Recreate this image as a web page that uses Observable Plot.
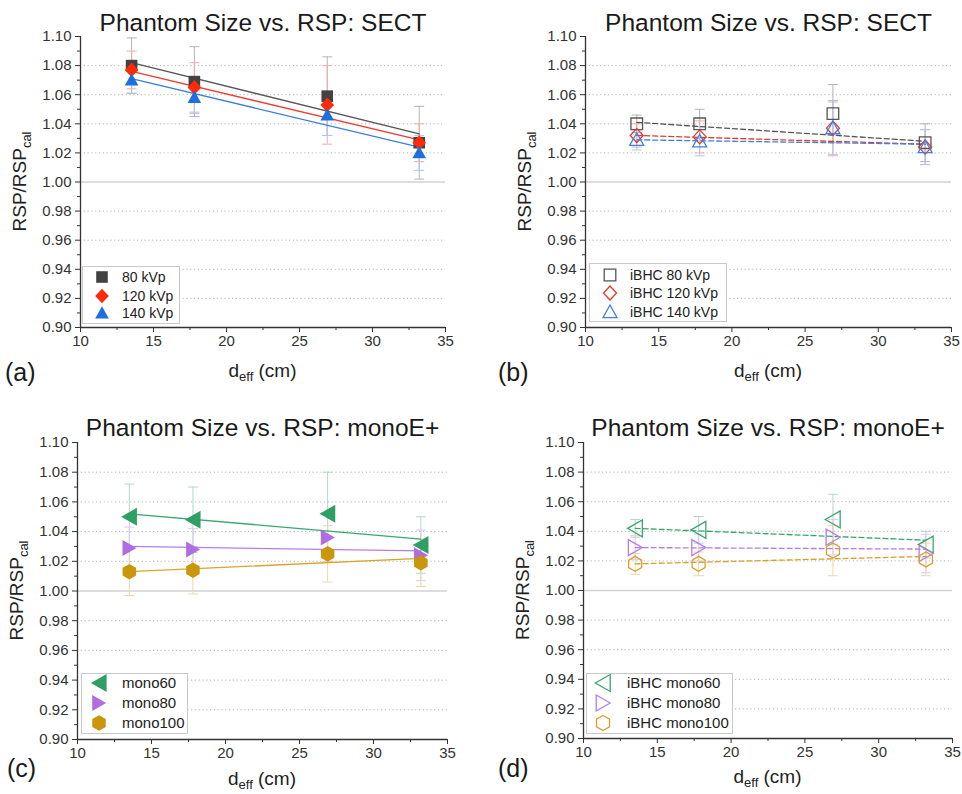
<!DOCTYPE html>
<html><head><meta charset="utf-8">
<script src="https://cdn.jsdelivr.net/npm/d3@7"></script>
<script src="https://cdn.jsdelivr.net/npm/@observablehq/plot@0.6"></script>
<style>
body{margin:0;background:#fff;}
#root{position:relative;width:962px;height:794px;overflow:hidden;font-family:"Liberation Sans",Arial,sans-serif;}
.panel{position:absolute;}
.legend{position:absolute;background:#fff;border:1px solid #c9c9c9;box-sizing:border-box;}
.lt{position:absolute;white-space:nowrap;color:#222;}
</style></head><body><div id="root"></div>
<script>
// ---------- data ----------
const deff = [13.5, 17.8, 26.9, 33.2];          // effective diameter (cm)
const fitX = [13.5, 33.2];

// (a) SECT
const sect80  = [1.080, 1.069, 1.059, 1.027];
const sect80Err  = [0.019, 0.024, 0.027, 0.025];
const sect80Fit  = [1.082, 1.033];
const sect120 = [1.077, 1.065, 1.053, 1.027];
const sect120Err = [0.013, 0.017, 0.027, 0.013];
const sect120Fit = [1.076, 1.029];
const sect140 = [1.070, 1.058, 1.046, 1.020];
const sect140Err = [0.009, 0.011, 0.014, 0.012];
const sect140Fit = [1.071, 1.024];

// (b) SECT iBHC
const ibhc80  = [1.040, 1.040, 1.047, 1.027];
const ibhc80Err  = [0.006, 0.010, 0.020, 0.013];
const ibhc80Fit  = [1.041, 1.028];
const ibhc120 = [1.032, 1.031, 1.037, 1.024];
const ibhc120Err = [0.008, 0.011, 0.019, 0.012];
const ibhc120Fit = [1.032, 1.026];
const ibhc140 = [1.029, 1.028, 1.037, 1.024];
const ibhc140Err = [0.007, 0.010, 0.018, 0.012];
const ibhc140Fit = [1.029, 1.026];

// (c) monoE+
const mono60  = [1.050, 1.048, 1.052, 1.031];
const mono60Err  = [0.022, 0.022, 0.028, 0.019];
const mono60Fit  = [1.052, 1.035];
const mono80  = [1.029, 1.028, 1.036, 1.024];
const mono80Err  = [0.014, 0.014, 0.016, 0.017];
const mono80Fit  = [1.030, 1.027];
const mono100 = [1.013, 1.014, 1.025, 1.019];
const mono100Err = [0.016, 0.016, 0.019, 0.016];
const mono100Fit = [1.013, 1.022];

// (d) monoE+ iBHC
const ibhcMono60  = [1.042, 1.041, 1.048, 1.031];
const ibhcMono60Err  = [0.006, 0.009, 0.017, 0.009];
const ibhcMono60Fit  = [1.042, 1.034];
const ibhcMono80  = [1.029, 1.029, 1.036, 1.025];
const ibhcMono80Err  = [0.008, 0.009, 0.012, 0.013];
const ibhcMono80Fit  = [1.029, 1.028];
const ibhcMono100 = [1.018, 1.018, 1.027, 1.021];
const ibhcMono100Err = [0.007, 0.008, 0.017, 0.011];
const ibhcMono100Fit = [1.018, 1.023];

// ticks
const yMajor = [0.90, 0.92, 0.94, 0.96, 0.98, 1.00, 1.02, 1.04, 1.06, 1.08, 1.10];
const yMinor = [0.91, 0.93, 0.95, 0.97, 0.99, 1.01, 1.03, 1.05, 1.07, 1.09];
const yGrid  = [0.92, 0.94, 0.96, 0.98, 1.02, 1.04, 1.06, 1.08];
const xMajor = [10, 15, 20, 25, 30, 35];
const xMinor = [12.5, 17.5, 22.5, 27.5, 32.5];

// ---------- symbols ----------
const rad = s => Math.sqrt(s / Math.PI);
const sym = {
  square:  {draw(c,s){const w=rad(s); c.rect(-w,-w,2*w,2*w);}},
  diamond: {draw(c,s){const w=rad(s); c.moveTo(0,-1.08*w); c.lineTo(w,0); c.lineTo(0,1.08*w); c.lineTo(-w,0); c.closePath();}},
  triUp:   {draw(c,s){const w=rad(s); c.moveTo(0,-w); c.lineTo(w,0.8*w); c.lineTo(-w,0.8*w); c.closePath();}},
  triLeft: {draw(c,s){const w=rad(s); c.moveTo(-0.9*w,0); c.lineTo(0.85*w,-w); c.lineTo(0.85*w,w); c.closePath();}},
  triRight:{draw(c,s){const w=rad(s); c.moveTo(0.9*w,0); c.lineTo(-0.85*w,-w); c.lineTo(-0.85*w,w); c.closePath();}},
  hex:     {draw(c,s){const w=rad(s); for(let k=0;k<6;k++){const a=-Math.PI/2+k*Math.PI/3; const px=w*Math.cos(a), py=w*Math.sin(a); if(k===0)c.moveTo(px,py); else c.lineTo(px,py);} c.closePath();}},
  cap:     {draw(c,s){const w=rad(s); c.moveTo(-w,0); c.lineTo(w,0);}}
};

// ---------- panels ----------
const panels = [
  {letter:"(a)", title:"Phantom Size vs. RSP: SECT", left:0, top:0, width:481, ml:80, mr:36, mt:36, mb:70, titleDy:-6,
   letterX:5, letterY:381, xlOff:50, open:false,
   legend:{x:82, y:266, w:98, h:58, symX:102, txtX:122, rows:[277,296,313], fs:14},
   series:[
    {name:"80 kVp", y:sect80, e:sect80Err, fit:sect80Fit, color:"#424242", line:"#555555", err:"#b4b4b4", symbol:sym.square, r:5.8},
    {name:"120 kVp", y:sect120, e:sect120Err, fit:sect120Fit, color:"#ff2a0a", line:"#ee3b33", err:"#f3aaaa", symbol:sym.diamond, r:6.8},
    {name:"140 kVp", y:sect140, e:sect140Err, fit:sect140Fit, color:"#1d6fe0", line:"#3a7edc", err:"#aac6f0", symbol:sym.triUp, r:6.8}
   ]},
  {letter:"(b)", title:"Phantom Size vs. RSP: SECT", left:495, top:0, width:467, ml:90, mr:11, mt:36, mb:70, titleDy:-6,
   letterX:3, letterY:381, xlOff:50, open:true,
   legend:{x:589, y:263, w:138, h:59, symX:610, txtX:630, rows:[275,293,312], fs:14},
   series:[
    {name:"iBHC 80 kVp", y:ibhc80, e:ibhc80Err, fit:ibhc80Fit, color:"#555555", line:"#555555", err:"#b4b4b4", symbol:sym.square, r:5.8},
    {name:"iBHC 120 kVp", y:ibhc120, e:ibhc120Err, fit:ibhc120Fit, color:"#e8382c", line:"#e8382c", err:"#f3aaaa", symbol:sym.diamond, r:6.5},
    {name:"iBHC 140 kVp", y:ibhc140, e:ibhc140Err, fit:ibhc140Fit, color:"#3f80e4", line:"#3f80e4", err:"#aac6f0", symbol:sym.triUp, r:7}
   ]},
  {letter:"(c)", title:"Phantom Size vs. RSP: monoE+", left:0, top:397, width:481, ml:77, mr:34, mt:45, mb:55, titleDy:-7,
   letterX:7, letterY:380, xlOff:46, open:false,
   legend:{x:81, y:673, w:107, h:61, symX:99, txtX:122, rows:[683,703,723], fs:15},
   series:[
    {name:"mono60", y:mono60, e:mono60Err, fit:mono60Fit, color:"#2f9f66", line:"#3aa872", err:"#b2d9c4", symbol:sym.triLeft, r:9},
    {name:"mono80", y:mono80, e:mono80Err, fit:mono80Fit, color:"#b06de2", line:"#b77de8", err:"#dfc8f3", symbol:sym.triRight, r:8},
    {name:"mono100", y:mono100, e:mono100Err, fit:mono100Fit, color:"#c9960c", line:"#d8a628", err:"#ecd7aa", symbol:sym.hex, r:7.8}
   ]},
  {letter:"(d)", title:"Phantom Size vs. RSP: monoE+", left:495, top:397, width:467, ml:88, mr:10, mt:45, mb:56, titleDy:-7,
   letterX:3, letterY:380, xlOff:45, open:true,
   legend:{x:586, y:673, w:147, h:61, symX:603, txtX:627, rows:[683,703,723], fs:15},
   series:[
    {name:"iBHC mono60", y:ibhcMono60, e:ibhcMono60Err, fit:ibhcMono60Fit, color:"#36a86e", line:"#36a86e", err:"#b2d9c4", symbol:sym.triLeft, r:8.5},
    {name:"iBHC mono80", y:ibhcMono80, e:ibhcMono80Err, fit:ibhcMono80Fit, color:"#b57de6", line:"#b57de6", err:"#dfc8f3", symbol:sym.triRight, r:8},
    {name:"iBHC mono100", y:ibhcMono100, e:ibhcMono100Err, fit:ibhcMono100Fit, color:"#d5a22e", line:"#d5a22e", err:"#ecd7aa", symbol:sym.hex, r:7.5}
   ]}
];

const H = 397;
const root = document.getElementById("root");
const FONT = "'Liberation Sans', Arial, sans-serif";

for (const p of panels) {
  const marks = [
    Plot.ruleY(yGrid, {stroke:"#b3b3b3", strokeWidth:1, strokeDasharray:"1.2,2.6"}),
    Plot.ruleY([1.0], {stroke:"#d2d2d2", strokeWidth:1.3})
  ];
  for (const s of p.series) {
    const d = deff.map((x,i)=>({x, lo:s.y[i]-s.e[i], hi:s.y[i]+s.e[i]}));
    marks.push(Plot.ruleX(d, {x:"x", y1:"lo", y2:"hi", stroke:s.err, strokeWidth:1}));
    marks.push(Plot.dot(d, {x:"x", y:"lo", symbol:sym.cap, r:5, stroke:s.err, strokeWidth:1}));
    marks.push(Plot.dot(d, {x:"x", y:"hi", symbol:sym.cap, r:5, stroke:s.err, strokeWidth:1}));
  }
  for (const s of p.series) {
    const f = fitX.map((x,i)=>({x, y:s.fit[i]}));
    marks.push(Plot.line(f, {x:"x", y:"y", stroke:s.line, strokeWidth:1.3, strokeDasharray: p.open ? "5,3" : null}));
  }
  for (const s of p.series) {
    const d = deff.map((x,i)=>({x, y:s.y[i]}));
    marks.push(Plot.dot(d, p.open
      ? {x:"x", y:"y", symbol:s.symbol, r:s.r, fill:"none", stroke:s.color, strokeWidth:1.3}
      : {x:"x", y:"y", symbol:s.symbol, r:s.r, fill:s.color, stroke:"none"}));
  }
  marks.push(
    Plot.ruleX([10], {stroke:"#333", strokeWidth:1.3}),
    Plot.ruleY([0.90], {stroke:"#333", strokeWidth:1.3}),
    Plot.axisY({ticks:yMajor, tickFormat:d3.format(".2f"), tickSize:5, tickPadding:4, label:null, color:"#333", fontSize:15}),
    Plot.axisY({ticks:yMinor, tickFormat:()=>"", tickSize:3, label:null, color:"#333"}),
    Plot.axisX({ticks:xMajor, tickFormat:d3.format("d"), tickSize:5, tickPadding:3, label:null, color:"#333", fontSize:15}),
    Plot.axisX({ticks:xMinor, tickFormat:()=>"", tickSize:3, label:null, color:"#333"}),
    Plot.text([p.title], {text:d=>d, frameAnchor:"top", lineAnchor:"bottom", dy:p.titleDy, fontSize:24.5, fill:"#1a1a1a"})
  );

  const svg = Plot.plot({
    width:p.width, height:H,
    marginLeft:p.ml, marginRight:p.mr, marginTop:p.mt, marginBottom:p.mb,
    x:{domain:[10,35]}, y:{domain:[0.90,1.10]},
    style:{fontFamily:FONT, fontSize:"15px", color:"#222", background:"transparent", overflow:"visible"},
    marks
  });

  const g = d3.select(svg);
  g.selectAll('g[aria-label$="tick label"]').attr("font-size", 15).style("font-size", "15px");
  const cy = (p.mt + (H - p.mb)) / 2;
  const cx = (p.ml + (p.width - p.mr)) / 2;
  const yl = g.append("text")
    .attr("transform", `translate(${p.ml-54},${cy}) rotate(-90)`)
    .attr("text-anchor","middle").attr("font-size",19).attr("fill","#222").attr("font-family",FONT);
  yl.append("tspan").text("RSP/RSP");
  yl.append("tspan").attr("font-size",13).attr("dy",5).text("cal");

  const xl = g.append("text")
    .attr("x", cx).attr("y", H - p.mb + p.xlOff)
    .attr("text-anchor","middle").attr("font-size",19).attr("fill","#222").attr("font-family",FONT);
  xl.append("tspan").text("d");
  xl.append("tspan").attr("font-size",13).attr("dy",4).text("eff");
  xl.append("tspan").attr("dy",-4).text(" (cm)");

  g.append("text").attr("x", p.letterX).attr("y", p.letterY)
    .attr("text-anchor","start")
    .attr("font-size",25).attr("fill","#1a1a1a").attr("font-family",FONT).text(p.letter);

  const wrap = document.createElement("div");
  wrap.className = "panel";
  wrap.style.left = p.left + "px";
  wrap.style.top = p.top + "px";
  wrap.appendChild(svg);
  root.appendChild(wrap);
}

// ---------- legends (HTML boxes) ----------
for (const p of panels) {
  const L = p.legend;
  const box = document.createElement("div");
  box.className = "legend";
  Object.assign(box.style, {left:L.x+"px", top:L.y+"px", width:L.w+"px", height:L.h+"px"});
  root.appendChild(box);
  p.series.forEach((s, i) => {
    const cyRow = L.rows[i];
    const sv = d3.create("svg").attr("width",24).attr("height",24)
      .style("position","absolute").style("left",(L.symX-12)+"px").style("top",(cyRow-12)+"px");
    sv.append("path")
      .attr("transform","translate(12,12)")
      .attr("d", d3.symbol(s.symbol, Math.PI*s.r*s.r)())
      .attr("fill", p.open ? "none" : s.color)
      .attr("stroke", p.open ? s.color : "none")
      .attr("stroke-width", 1.3);
    root.appendChild(sv.node());
    const t = document.createElement("div");
    t.className = "lt";
    t.textContent = s.name;
    Object.assign(t.style, {left:L.txtX+"px", top:(cyRow - L.fs*0.6)+"px", fontSize:L.fs+"px", lineHeight:(L.fs*1.2)+"px"});
    root.appendChild(t);
  });
}
</script>
</body></html>
